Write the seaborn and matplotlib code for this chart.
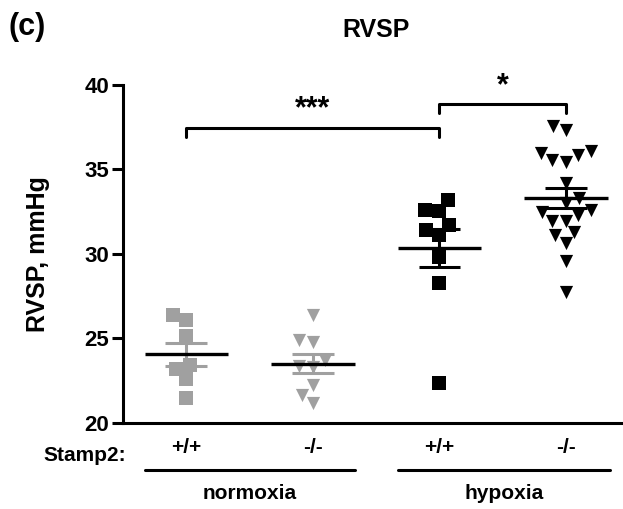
import matplotlib
matplotlib.use("Agg")
import matplotlib.pyplot as plt
import numpy as np
import pandas as pd
import seaborn as sns

# RVSP values (mmHg)
norm_wt = [26.4, 26.1, 25.15, 23.45, 23.2, 22.6, 21.5]
norm_ko = [26.4, 24.8, 24.9, 23.3, 23.4, 23.7, 22.25, 21.2, 21.66]
hyp_wt = [33.2, 32.54, 32.6, 31.7, 31.4, 31.1, 29.8, 28.3, 22.37]
hyp_ko = [37.35, 37.6, 35.55, 36.0, 35.45, 36.1, 35.85, 34.2, 33.3, 33.0,
          32.5, 32.3, 32.6, 31.95, 31.95, 31.3, 31.1, 30.65, 29.6, 27.75]

groups = ["nw", "nk", "hw", "hk"]
genotype_labels = ["+/+", "-/-", "+/+", "-/-"]
condition_labels = ["normoxia", "hypoxia"]
yticks = [20, 25, 30, 35, 40]

gray = "#a0a0a0"
colors = [gray, gray, "black", "black"]
markers = ["s", "v", "s", "v"]
sizes = [10, 9.5, 10, 9.5]

df = pd.concat([
    pd.DataFrame({"group": g, "rvsp": v})
    for g, v in zip(groups, [norm_wt, norm_ko, hyp_wt, hyp_ko])
], ignore_index=True)

sns.set_theme(style="ticks")
plt.rcParams["font.family"] = ["Liberation Sans", "DejaVu Sans"]
plt.rcParams["font.weight"] = "bold"
plt.rcParams["text.color"] = "black"
plt.rcParams["xtick.color"] = "black"
plt.rcParams["ytick.color"] = "black"
plt.rcParams["axes.labelcolor"] = "black"
plt.rcParams["axes.edgecolor"] = "black"

fig = plt.figure(figsize=(6.23, 5.09), dpi=100)
ax = fig.add_axes([123 / 623, 1 - 423 / 509, 500 / 623, 338 / 509])

for g, c, m, s in zip(groups, colors, markers, sizes):
    sub = df[df["group"] == g]
    sns.swarmplot(data=sub, x="group", y="rvsp", order=groups, marker=m,
                  color=c, size=s, linewidth=0, ax=ax, zorder=2)

# mean +/- SEM
for i, (g, c) in enumerate(zip(groups, colors)):
    vals = df.loc[df["group"] == g, "rvsp"].to_numpy()
    mean = vals.mean()
    sem = vals.std(ddof=1) / np.sqrt(len(vals))
    ax.vlines(i, mean - sem, mean + sem, color=c, lw=2.2, zorder=3)
    ax.hlines([mean - sem, mean + sem], i - 0.165, i + 0.165, color=c, lw=2.2, zorder=3)
    ax.hlines(mean, i - 0.33, i + 0.33, color="black", lw=2.4, zorder=4)

# significance brackets
ax.plot([0, 0, 2, 2], [36.9, 37.45, 37.45, 36.9], color="black", lw=2.2, clip_on=False)
ax.text(1, 37.7, "***", ha="center", va="bottom", fontsize=22, fontweight="bold")
ax.plot([2, 2, 3, 3], [38.35, 38.9, 38.9, 38.35], color="black", lw=2.2, clip_on=False)
ax.text(2.5, 39.05, "*", ha="center", va="bottom", fontsize=22, fontweight="bold")

ax.set_xlim(-0.5, 3.45)
ax.set_ylim(20, 40)
ax.set_yticks(yticks)
ax.set_xticks(range(4))
ax.set_xticklabels(genotype_labels)
ax.tick_params(axis="x", length=0, pad=11, labelsize=15)
ax.tick_params(axis="y", length=8, width=2.2, labelsize=16, pad=2)
for lab in ax.get_xticklabels() + ax.get_yticklabels():
    lab.set_fontweight("bold")
ax.set_xlabel("")
ax.set_ylabel("RVSP, mmHg", fontsize=18, fontweight="bold")
ax.yaxis.set_label_coords(-0.146, 0.5)
for side in ["top", "right"]:
    ax.spines[side].set_visible(False)
for side in ["left", "bottom"]:
    ax.spines[side].set_linewidth(2.2)

trans = ax.get_xaxis_transform()
ax.text(-0.076, -0.095, "Stamp2:", transform=ax.transAxes, ha="center", va="center",
        fontsize=15, fontweight="bold")
for (x0, x1), lab in zip([(-0.33, 1.33), (1.67, 3.35)], condition_labels):
    ax.plot([x0, x1], [-0.139, -0.139], transform=trans, color="black", lw=2.2, clip_on=False)
    ax.text((x0 + x1) / 2, -0.21, lab, transform=trans, ha="center", va="center",
            fontsize=15, fontweight="bold")

fig.text(376 / 623, 1 - 30 / 509, "RVSP", ha="center", va="center", fontsize=18, fontweight="bold")
fig.text(8 / 623, 1 - 27 / 509, "(c)", ha="left", va="center", fontsize=22, fontweight="bold")

fig.savefig("out.png", dpi=100)
